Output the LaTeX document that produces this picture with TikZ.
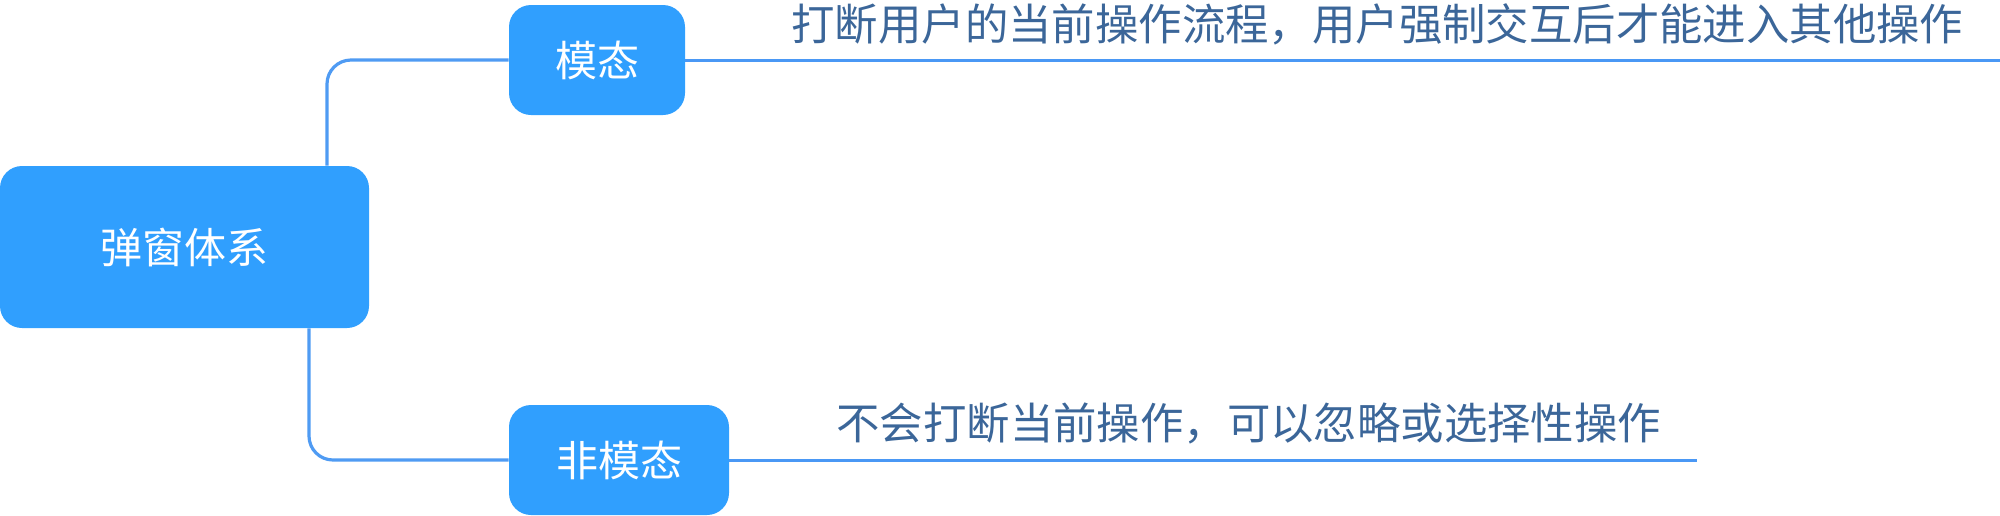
\documentclass[tikz,border=0pt]{standalone}
\usepackage{fontspec}
\newfontfamily\cjk{Noto Sans CJK SC}
\definecolor{boxblue}{HTML}{309FFE}
\definecolor{connblue}{HTML}{4F9BF3}
\definecolor{lineblue}{HTML}{4A98F5}
\definecolor{textblue}{HTML}{3B6699}
\begin{document}
\begin{tikzpicture}[x=0.5pt,y=-0.5pt,
  box/.style={fill=boxblue, rounded corners=11pt, text=white, font=\cjk\fontsize{21pt}{21pt}\selectfont, inner sep=0pt},
  conn/.style={draw=connblue, line width=1.6pt, rounded corners=12pt},
  uline/.style={draw=lineblue, line width=1.5pt},
  desc/.style={text=textblue, font=\cjk\fontsize{21.7pt}{22pt}\selectfont, inner sep=0pt, anchor=base west}]
\useasboundingbox (0,0) rectangle (2000,515);
\node[box, minimum width=184.5pt, minimum height=81pt] (root) at (184.5,247) {弹窗体系};
\node[box, minimum width=88pt, minimum height=55pt] (modal) at (597,60) {模态};
\node[box, minimum width=110pt, minimum height=55pt] (nonmodal) at (619,460) {非模态};
\coordinate (c1) at (327,0);
\coordinate (c2) at (309,0);
\coordinate (e1) at (2000,61);
\coordinate (e2) at (1697,461);
\draw[conn] (root.north -| c1) |- (modal.west);
\draw[conn] (root.south -| c2) |- (nonmodal.west);
\draw[uline] (modal.east) -- (e1 |- modal.east);
\draw[uline] (nonmodal.east) -- (e2 |- nonmodal.east);
\node[desc] (t1) at (791,40) {打断用户的当前操作流程，用户强制交互后才能进入其他操作};
\node[desc] (t2) at (836,439) {不会打断当前操作，可以忽略或选择性操作};
\end{tikzpicture}
\end{document}
